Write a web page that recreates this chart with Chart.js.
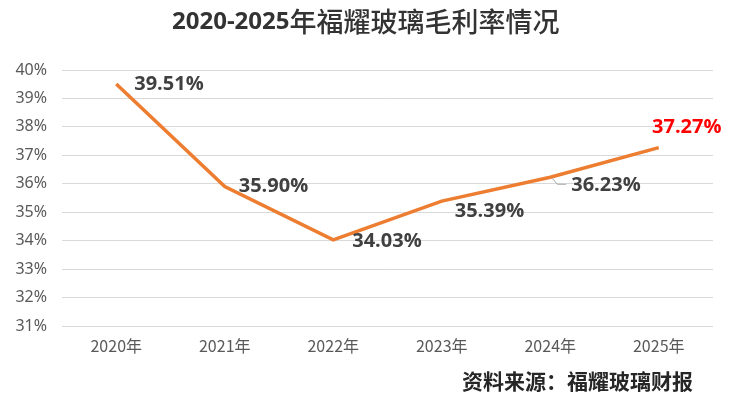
<!DOCTYPE html>
<html>
<head>
<meta charset="utf-8">
<script src="https://cdn.jsdelivr.net/npm/chart.js@4"></script>
<style>
  html, body { margin: 0; padding: 0; background: #fff; }
  #wrap { width: 735px; height: 397px; }
</style>
</head>
<body>
<div id="wrap"><canvas id="chart" width="735" height="397"></canvas></div>
<script>
const years = ['2020年', '2021年', '2022年', '2023年', '2024年', '2025年'];
const grossMargin = [39.51, 35.90, 34.03, 35.39, 36.23, 37.27];
const yTicks = [31, 32, 33, 34, 35, 36, 37, 38, 39, 40];

const titleYears = '2020-2025';
const titleRest = '年福耀玻璃毛利率情况';
const sourceText = '资料来源：福耀玻璃财报';

// where each value label sits relative to its point
const labelPos = [
    { dx: 18, dy: 0, align: 'left' },
    { dx: 14, dy: 0, align: 'left' },
    { dx: 19, dy: 1, align: 'left' },
    { dx: 13, dy: 10, align: 'left' },
    { dx: 21, dy: 8, align: 'left', leader: true },
    { dx: 28, dy: -20, align: 'center', color: '#FF0000' }
];

const extras = {
    id: 'extras',
    afterDatasetsDraw(chart) {
        const c = chart.ctx;
        const meta = chart.getDatasetMeta(0);
        c.save();
        c.font = 'bold 20px "Open Sans", "Noto Sans", sans-serif';
        c.textBaseline = 'middle';
        meta.data.forEach((pt, i) => {
            const p = labelPos[i];
            if (p.leader) {
                c.strokeStyle = '#a6a6a6';
                c.lineWidth = 1;
                c.beginPath();
                c.moveTo(pt.x + 2, pt.y + 1);
                c.lineTo(pt.x + 7, pt.y + p.dy - 1);
                c.lineTo(pt.x + p.dx - 5, pt.y + p.dy - 1);
                c.stroke();
            }
            c.fillStyle = p.color || '#404040';
            c.textAlign = p.align;
            c.fillText(grossMargin[i].toFixed(2) + '%', pt.x + p.dx, pt.y + p.dy);
        });
        c.restore();
    },
    afterDraw(chart) {
        const c = chart.ctx;
        c.save();
        c.fillStyle = '#333333';
        c.textBaseline = 'middle';
        c.textAlign = 'left';
        c.font = 'bold 24px "Open Sans", sans-serif';
        c.fillText(titleYears, 172, 22);
        const w = c.measureText(titleYears).width;
        c.font = '500 27px "Noto Sans CJK SC", sans-serif';
        c.fillText(titleRest, 172 + w, 22);
        c.fillStyle = '#262626';
        c.textAlign = 'right';
        c.font = 'bold 21px "Noto Sans CJK SC", sans-serif';
        c.fillText(sourceText, 693, 381);
        c.restore();
    }
};

new Chart(document.getElementById('chart'), {
    type: 'line',
    data: {
        labels: years,
        datasets: [{
            label: '毛利率',
            data: grossMargin,
            borderColor: '#ED7D31',
            borderWidth: 3.5,
            pointRadius: 0,
            tension: 0,
            fill: false
        }]
    },
    options: {
        responsive: false,
        animation: false,
        layout: { padding: { left: 0, right: 22, top: 70, bottom: 0 } },
        plugins: {
            legend: { display: false },
            title: { display: false },
            tooltip: { enabled: false }
        },
        scales: {
            x: {
                offset: true,
                grid: { display: false, drawTicks: false },
                border: { display: false },
                ticks: {
                    padding: 10,
                    color: '#595959',
                    font: { family: '"Noto Sans CJK SC", sans-serif', size: 16 }
                },
                afterFit(scale) { scale.height = 71; }
            },
            y: {
                min: yTicks[0],
                max: yTicks[yTicks.length - 1],
                afterBuildTicks(scale) { scale.ticks = yTicks.map(v => ({ value: v })); },
                grid: { color: '#d9d9d9', drawTicks: false },
                border: { display: false },
                ticks: {
                    padding: 15,
                    color: '#595959',
                    font: { family: '"Noto Sans", sans-serif', size: 16 },
                    callback: v => v + '%'
                },
                afterFit(scale) { scale.width = 62; }
            }
        }
    },
    plugins: [extras]
});
</script>
</body>
</html>
